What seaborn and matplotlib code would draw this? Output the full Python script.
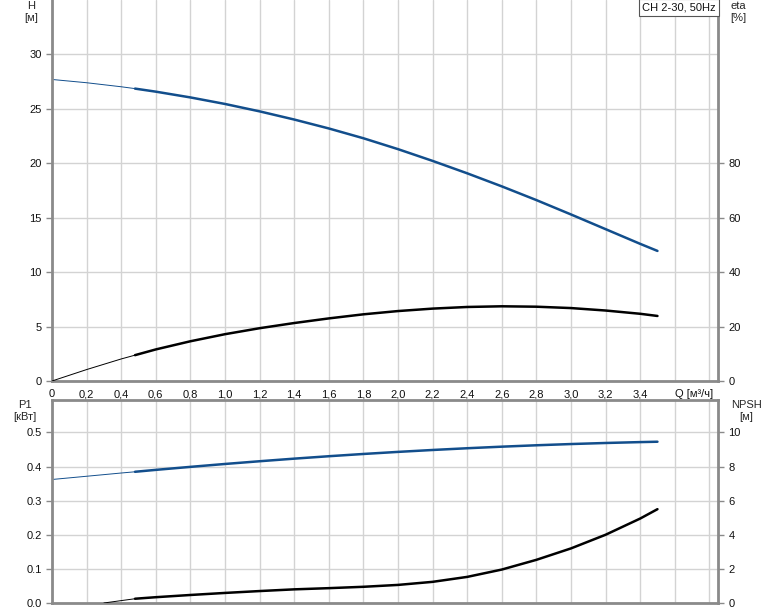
import matplotlib
matplotlib.use("Agg")
import matplotlib.pyplot as plt
import seaborn as sns

# ----------------------
# Curve data
# ----------------------
q = [0, 0.2, 0.4, 0.48, 0.6, 0.8, 1.0, 1.2, 1.4, 1.6, 1.8, 2.0, 2.2, 2.4, 2.6, 2.8, 3.0, 3.2, 3.4, 3.5]
head = [27.7, 27.4, 27.03, 26.86, 26.58, 26.05, 25.45, 24.77, 24.02, 23.2, 22.3, 21.3, 20.22,
        19.08, 17.88, 16.62, 15.3, 13.95, 12.6, 11.95]
eta = [0, 4.2, 8.1, 9.5, 11.6, 14.6, 17.2, 19.4, 21.3, 23.0, 24.5, 25.7, 26.6, 27.2, 27.45,
       27.3, 26.8, 25.9, 24.7, 23.9]
p1 = [0.362, 0.3715, 0.381, 0.3846, 0.3902, 0.399, 0.4075, 0.4155, 0.4231, 0.4302, 0.4368,
      0.4429, 0.4485, 0.4536, 0.4582, 0.4623, 0.4659, 0.469, 0.4716, 0.4727]
q_npsh = [0.3, 0.4, 0.48, 0.6, 0.8, 1.0, 1.2, 1.4, 1.6, 1.8, 2.0, 2.2, 2.4, 2.6, 2.8, 3.0, 3.2, 3.4, 3.5]
npsh = [0, 0.14, 0.25, 0.34, 0.47, 0.59, 0.70, 0.80, 0.87, 0.95, 1.06, 1.24, 1.53, 1.96, 2.53,
        3.2, 4.0, 4.95, 5.5]

x_ticks = [0, 0.2, 0.4, 0.6, 0.8, 1.0, 1.2, 1.4, 1.6, 1.8, 2.0, 2.2, 2.4, 2.6, 2.8, 3.0, 3.2, 3.4, 3.6, 3.8]
x_labels = ["0", "0,2", "0,4", "0,6", "0,8", "1,0", "1,2", "1,4", "1,6", "1,8", "2,0", "2,2",
            "2,4", "2,6", "2,8", "3,0", "3,2", "3,4", "", ""]
h_ticks = [0, 5, 10, 15, 20, 25, 30]
eta_ticks = [0, 20, 40, 60, 80]
p1_ticks = [0.0, 0.1, 0.2, 0.3, 0.4, 0.5]
npsh_ticks = [0, 2, 4, 6, 8, 10]

BLUE = "#124e8c"
SPINE = "#8a8a8a"
GRID = "#d3d3d3"
FS = 8
SPLIT = 3  # index of Q=0.48 where the curves get thick


def style_axis(ax):
    ax.set_facecolor("white")
    ax.grid(True, color=GRID, lw=1.0)
    for side in ["left", "right", "bottom", "top"]:
        ax.spines[side].set_color(SPINE)
        ax.spines[side].set_linewidth(2)
    ax.tick_params(colors=SPINE, labelcolor="#111111", labelsize=FS, length=4, width=1)


def draw_curve(ax, x, y, color, split):
    sns.lineplot(x=x[:split + 1], y=y[:split + 1], ax=ax, color=color, lw=0.7)
    sns.lineplot(x=x[split:], y=y[split:], ax=ax, color=color, lw=1.8)


sns.set_style("white")
plt.rcParams["font.family"] = ["Liberation Sans", "DejaVu Sans"]

fig = plt.figure(figsize=(7.74, 6.11), dpi=100)
ax_top = fig.add_axes([52 / 774, 1 - 381 / 611, 666 / 774, 381 / 611])
ax_bot = fig.add_axes([52 / 774, 1 - 603 / 611, 666 / 774, 203 / 611])

# ----------------------
# Head / efficiency
# ----------------------
style_axis(ax_top)
ax_top.spines["top"].set_visible(False)
draw_curve(ax_top, q, head, BLUE, SPLIT)
ax_top.set_xlim(0, 3.85)
ax_top.set_ylim(0, 35)
ax_top.set_xticks(x_ticks)
ax_top.set_xticklabels(x_labels)
ax_top.set_yticks(h_ticks)
ax_top.set_yticklabels([str(t) for t in h_ticks])
ax_top.tick_params(axis="x", pad=2)
ax_top.set_xlabel("")
ax_top.set_ylabel("")
ax_top.text(3.71, -0.022, "Q [м³/ч]", transform=ax_top.get_xaxis_transform(),
            ha="center", va="top", fontsize=FS, color="#111111")
ax_top.text(0.997, 0.993, "CH 2-30, 50Hz", transform=ax_top.transAxes, ha="right", va="top",
            fontsize=FS, color="#111111",
            bbox=dict(boxstyle="square,pad=0.3", fc="white", ec="#555555", lw=0.8))

ax_eta = ax_top.twinx()
ax_eta.grid(False)
for side in ["left", "right", "bottom", "top"]:
    ax_eta.spines[side].set_visible(False)
draw_curve(ax_eta, q, eta, "black", SPLIT)
ax_eta.set_ylim(0, 140)
ax_eta.set_yticks(eta_ticks)
ax_eta.set_yticklabels([str(t) for t in eta_ticks])
ax_eta.tick_params(colors=SPINE, labelcolor="#111111", labelsize=FS, length=4, width=1)
ax_eta.set_ylabel("")

# ----------------------
# Power / NPSH
# ----------------------
style_axis(ax_bot)
draw_curve(ax_bot, q, p1, BLUE, SPLIT)
ax_bot.set_xlim(0, 3.85)
ax_bot.set_ylim(0, 0.595)
ax_bot.set_xticks(x_ticks)
ax_bot.set_xticklabels([])
ax_bot.tick_params(axis="x", length=0)
ax_bot.set_yticks(p1_ticks)
ax_bot.set_yticklabels([f"{t:.1f}" for t in p1_ticks])
ax_bot.set_ylabel("")

ax_npsh = ax_bot.twinx()
ax_npsh.grid(False)
for side in ["left", "right", "bottom", "top"]:
    ax_npsh.spines[side].set_visible(False)
draw_curve(ax_npsh, q_npsh, npsh, "black", 2)
ax_npsh.set_ylim(0, 11.9)
ax_npsh.set_yticks(npsh_ticks)
ax_npsh.set_yticklabels([str(t) for t in npsh_ticks])
ax_npsh.tick_params(colors=SPINE, labelcolor="#111111", labelsize=FS, length=4, width=1)
ax_npsh.set_ylabel("")

# axis titles in the margins
fig.text(31 / 774, 1 - 6 / 611, "H", ha="center", va="center", fontsize=FS)
fig.text(31 / 774, 1 - 18 / 611, "[м]", ha="center", va="center", fontsize=FS)
fig.text(738 / 774, 1 - 6 / 611, "eta", ha="center", va="center", fontsize=FS)
fig.text(738 / 774, 1 - 18 / 611, "[%]", ha="center", va="center", fontsize=FS)
fig.text(25 / 774, 1 - 405 / 611, "P1", ha="center", va="center", fontsize=FS)
fig.text(25 / 774, 1 - 417 / 611, "[кВт]", ha="center", va="center", fontsize=FS)
fig.text(746 / 774, 1 - 405 / 611, "NPSH", ha="center", va="center", fontsize=FS)
fig.text(746 / 774, 1 - 417 / 611, "[м]", ha="center", va="center", fontsize=FS)

fig.savefig("out.png", dpi=100, facecolor="white")
